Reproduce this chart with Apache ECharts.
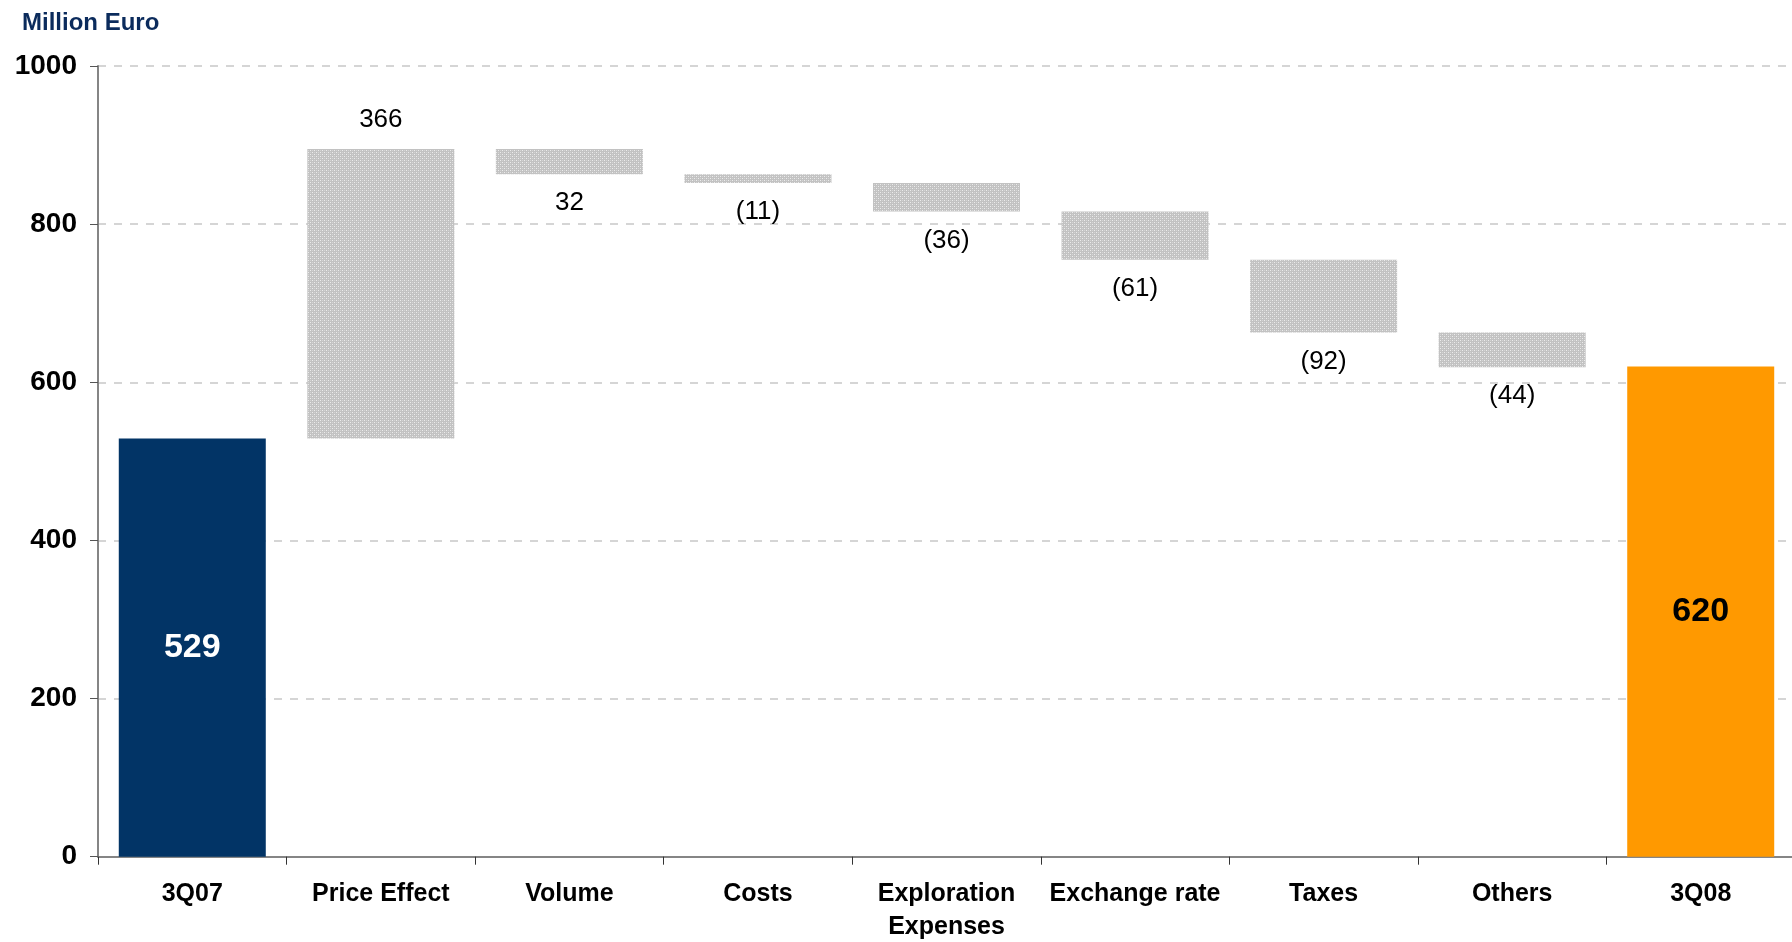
<!DOCTYPE html>
<html>
<head>
<meta charset="utf-8">
<script src="https://cdn.jsdelivr.net/npm/echarts@6/dist/echarts.min.js"></script>
<style>
html,body{margin:0;padding:0;background:#fff;}
#chart{width:1792px;height:942px;}
</style>
</head>
<body>
<div id="chart"></div>
<script>
// ---- data ----
var categories = ['3Q07', 'Price Effect', 'Volume', 'Costs', 'Exploration\nExpenses', 'Exchange rate', 'Taxes', 'Others', '3Q08'];
var startValue = 529;
var endValue = 620;
var deltas = [366, -32, -11, -36, -61, -92, -44];
var deltaLabels = ['366', '32', '(11)', '(36)', '(61)', '(92)', '(44)'];
var yTicks = [0, 200, 400, 600, 800, 1000];
var unitTitle = 'Million Euro';

// ---- pattern fill for the change bars ----
var pc = document.createElement('canvas');
pc.width = 4; pc.height = 4;
var pctx = pc.getContext('2d');
pctx.fillStyle = '#c2c2c2';
pctx.fillRect(0, 0, 4, 4);
pctx.fillStyle = '#ececec';
pctx.fillRect(0, 0, 1, 1);
pctx.fillRect(2, 2, 1, 1);
pctx.fillStyle = '#d4d4d4';
pctx.fillRect(2, 0, 1, 1);
pctx.fillRect(0, 2, 1, 1);
var greyPattern = { image: pc, repeat: 'repeat' };

var NAVY = '#023466';
var ORANGE = '#ff9900';
var FONT = 'Liberation Sans, Arial, sans-serif';

// ---- build waterfall ----
var baseData = [0];
var barData = [{
  value: startValue,
  itemStyle: { color: NAVY },
  label: { show: true, position: 'inside', color: '#ffffff', fontSize: 34, fontWeight: 'bold', formatter: String(startValue) }
}];
var running = startValue;
for (var i = 0; i < deltas.length; i++) {
  var d = deltas[i];
  var base, h, pos;
  if (d >= 0) { base = running; h = d; running += d; pos = 'top'; }
  else { running += d; base = running; h = -d; pos = 'bottom'; }
  baseData.push(base);
  barData.push({
    value: h,
    itemStyle: { color: greyPattern },
    label: { show: true, position: pos, distance: 16, color: '#000', fontSize: 26, formatter: deltaLabels[i] }
  });
}
baseData.push(0);
barData.push({
  value: endValue,
  itemStyle: { color: ORANGE },
  label: { show: true, position: 'inside', color: '#000000', fontSize: 34, fontWeight: 'bold', formatter: String(endValue) }
});

var chart = echarts.init(document.getElementById('chart'), null, { renderer: 'canvas' });
chart.setOption({
  animation: false,
  backgroundColor: '#ffffff',
  textStyle: { fontFamily: FONT },
  title: {
    text: unitTitle,
    left: 17, top: 6,
    textStyle: { fontFamily: FONT, fontSize: 24, fontWeight: 'bold', color: '#0b2b5c' }
  },
  grid: { left: 98, top: 66, bottom: 85.3, width: 1697, containLabel: false, outerBoundsMode: 'none' },
  xAxis: {
    type: 'category',
    data: categories,
    axisLine: { lineStyle: { color: '#858585', width: 2 } },
    axisTick: { show: true, length: 8, lineStyle: { color: '#333', width: 1 } },
    axisLabel: {
      interval: 0, margin: 21, color: '#000', fontSize: 25, fontWeight: 'bold', lineHeight: 33,
      fontFamily: FONT
    },
    splitLine: { show: false }
  },
  yAxis: {
    type: 'value',
    min: yTicks[0], max: yTicks[yTicks.length - 1], interval: 200,
    axisLine: { show: true, lineStyle: { color: '#858585', width: 2 } },
    axisTick: { show: true, length: 8, lineStyle: { color: '#555', width: 1 } },
    axisLabel: {
      margin: 21, color: '#000', fontSize: 28, fontWeight: 'bold', fontFamily: FONT,
      formatter: function (v) { return String(v); }
    },
    splitLine: { show: true, lineStyle: { color: '#c8c8c8', type: [8, 8], width: 1.5 } }
  },
  series: [
    {
      type: 'bar', stack: 'wf', barWidth: 147,
      data: baseData,
      itemStyle: { color: 'rgba(0,0,0,0)' },
      emphasis: { disabled: true },
      silent: true
    },
    {
      type: 'bar', stack: 'wf', barWidth: 147,
      data: barData
    }
  ]
});
</script>
</body>
</html>
